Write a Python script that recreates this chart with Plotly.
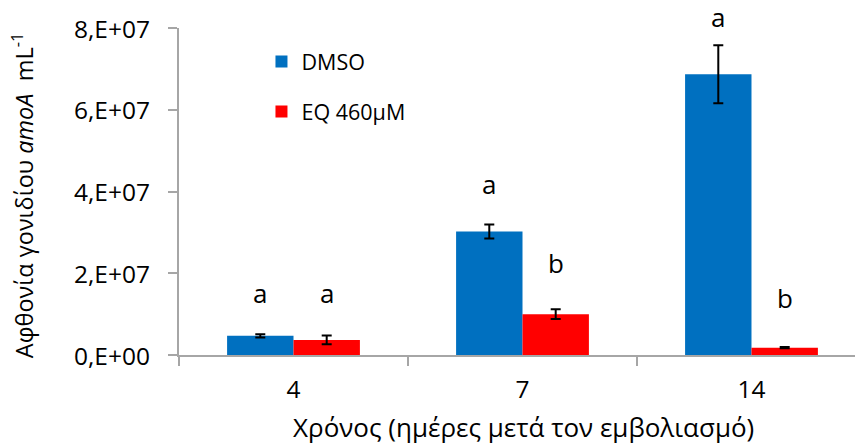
import plotly.graph_objects as go

# Sampling day after inoculation
days = ["4", "7", "14"]

# amoA gene copies per mL (mean) and standard error
dmso_mean = [4.7e6, 3.02e7, 6.87e7]
dmso_err = [0.4e6, 1.7e6, 7.1e6]
eq_mean = [3.7e6, 1.0e7, 1.8e6]
eq_err = [1.1e6, 1.2e6, 0.15e6]

# Significance letters and their heights
dmso_letters = ["a", "a", "a"]
dmso_letter_y = [1.52e7, 4.19e7, 8.27e7]
eq_letters = ["a", "b", "b"]
eq_letter_y = [1.52e7, 2.25e7, 1.39e7]

# Y axis ticks
y_tickvals = [0, 2e7, 4e7, 6e7, 8e7]
y_ticktext = ["0,E+00", "2,E+07", "4,E+07", "6,E+07", "8,E+07"]
y_max = 8e7

x_title = "Χρόνος (ημέρες μετά τον εμβολιασμό)"
y_title = "Αφθονία γονιδίου <i>amoA</i>  mL<sup>-1</sup>"

FONT = "Open Sans"
BLUE = "#0070C0"
RED = "#FF0000"
AXIS = "#A6A6A6"

fig = go.Figure()
fig.add_trace(go.Bar(
    x=days, y=dmso_mean, name="DMSO", legendgroup="dmso",
    marker=dict(color=BLUE, line=dict(width=0)),
    error_y=dict(type="data", array=dmso_err, color="black", thickness=2, width=5),
))
fig.add_trace(go.Bar(
    x=days, y=eq_mean, name="EQ 460μM", legendgroup="eq",
    marker=dict(color=RED, line=dict(width=0)),
    error_y=dict(type="data", array=eq_err, color="black", thickness=2, width=5),
))

bargap = 0.42
half = (1 - bargap) / 4  # centre offset of each bar within its group


def add_letters(letters, heights, offset):
    # letters are placed in plot-fraction height so the one above the top stays visible
    for i, (txt, h) in enumerate(zip(letters, heights)):
        fig.add_annotation(x=i + offset, y=h / y_max, yref="paper", yanchor="middle",
                           text=txt, showarrow=False,
                           font=dict(size=26, color="black", family=FONT))


add_letters(dmso_letters, dmso_letter_y, -half)
add_letters(eq_letters, eq_letter_y, half)

# y tick labels, set a little further from the tick marks than the default
for v, t in zip(y_tickvals, y_ticktext):
    fig.add_annotation(x=-0.04, xref="paper", y=v, yref="y", xanchor="right",
                       yanchor="middle", text=t, showarrow=False,
                       font=dict(size=24.5, color="black", family=FONT))

# axis titles
fig.add_annotation(x=0.509, y=-0.22, xref="paper", yref="paper",
                   xanchor="center", yanchor="middle", text=x_title, showarrow=False,
                   font=dict(size=26, color="black", family=FONT))
fig.add_annotation(x=-0.2322, y=0.489, xref="paper", yref="paper",
                   xanchor="center", yanchor="middle", textangle=-90, text=y_title,
                   showarrow=False, font=dict(size=23.5, color="black", family=FONT))

fig.update_layout(
    width=855, height=445,
    margin=dict(l=179, r=0, t=28, b=90),
    paper_bgcolor="white", plot_bgcolor="white",
    barmode="group", bargap=bargap, bargroupgap=0,
    font=dict(family=FONT, color="black"),
    showlegend=True,
    legend=dict(x=0.122, y=0.96, xanchor="left", yanchor="top",
                font=dict(size=21.5, family=FONT), tracegroupgap=19,
                bgcolor="rgba(0,0,0,0)"),
    xaxis=dict(
        type="category", range=[-0.5, 2.452], automargin=False,
        showline=True, linecolor=AXIS, linewidth=2,
        ticks="outside", tickson="boundaries", ticklen=9, tickcolor=AXIS, tickwidth=2,
        tickfont=dict(size=24.5, family=FONT), ticklabelstandoff=12,
        showgrid=False, zeroline=False,
    ),
    yaxis=dict(
        range=[0, y_max], tickvals=y_tickvals, showticklabels=False,
        automargin=False,
        showline=True, linecolor=AXIS, linewidth=2,
        ticks="outside", ticklen=9, tickcolor=AXIS, tickwidth=2,
        showgrid=False, zeroline=False,
    ),
)

fig.write_html("out.html")
